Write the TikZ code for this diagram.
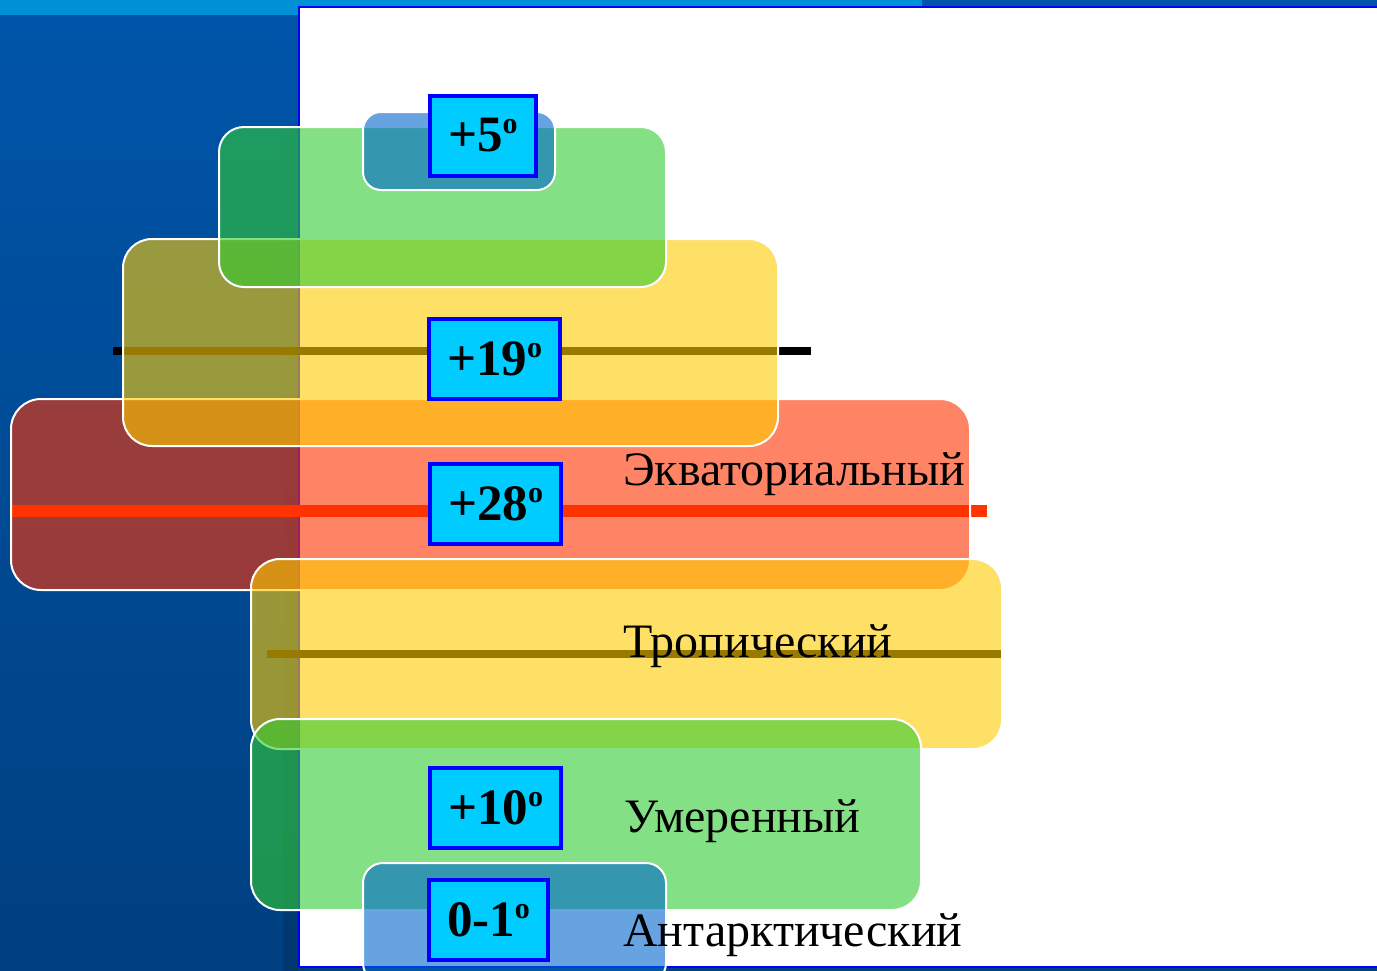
\documentclass[tikz,border=0pt]{standalone}
\usepackage{fontspec}
\setmainfont{Liberation Serif}
\usepackage{xcolor}
\definecolor{stripblue}{HTML}{0055AA}
\definecolor{stripdark}{HTML}{004080}
\definecolor{shadowblue}{HTML}{00386E}
\definecolor{bandblue}{HTML}{0090D5}
\definecolor{panelblue}{HTML}{0000FF}
\definecolor{equatorred}{HTML}{FF3300}
\definecolor{zoneyellow}{HTML}{FFCC00}
\definecolor{zonegreen}{HTML}{33CC33}
\definecolor{zoneblue}{HTML}{0066CC}
\definecolor{tempcyan}{HTML}{00CCFF}
\newcommand{\degsup}{\raisebox{18pt}{\fontsize{30}{30}\selectfont o}}
\tikzset{
    zone-box/.style = {draw=white, line width=2pt, fill=#1, fill opacity=0.6},
    belt-line/.style = {line width=8pt, draw=black},
    temp-box/.style = {draw=panelblue, fill=tempcyan, line width=4pt, rectangle, anchor=west,
        minimum height=80pt, inner xsep=18pt, font=\fontsize{51}{60}\selectfont\bfseries},
    zone-label/.style = {anchor=base west, inner sep=0pt, font=\fontsize{48}{58}\selectfont},
}
\begin{document}
\begin{tikzpicture}[x=1pt, y=-1pt]
\useasboundingbox (0,0) rectangle (1377,970);
\clip (0,0) rectangle (1377,970);
% slide background
\shade[top color=stripblue, bottom color=stripdark] (0,0) rectangle (1377,970);
\fill[bandblue] (0,0) rectangle (922,15);
\shade[top color=stripblue, bottom color=shadowblue] (283,15) rectangle (298,970);
\draw[panelblue, line width=2pt, fill=white] (299,7) rectangle (1390,967);

% belt lines (under the zones)
\draw[belt-line] (113,351) -- (811,351);
\draw[belt-line, draw=equatorred, line width=12pt] (11,511) -- (987,511);
\draw[belt-line] (267,654) -- (1002,654);

% zones
\draw[zone-box=equatorred, rounded corners=30pt] (11,399) rectangle (970,590);
\draw[zone-box=zoneyellow, rounded corners=29pt] (123,239) rectangle (778,446);
\draw[zone-box=zonegreen, rounded corners=25pt] (219,127) rectangle (666,287);
\draw[zone-box=zoneblue, rounded corners=18pt] (363,112) rectangle (555,190);
\draw[zone-box=zoneyellow, rounded corners=29pt] (251,559) rectangle (1002,749);
\draw[zone-box=zonegreen, rounded corners=29pt] (251,719) rectangle (921,910);
\draw[zone-box=zoneblue, rounded corners=20pt] (363,863) rectangle (666,983);

% temperatures
\node[temp-box] (t-polar-n) at (428,135.5) {+5\degsup};
\node[temp-box] (t-temperate-n) at (427,359) {+19\degsup};
\node[temp-box] (t-equator) at (428,503.5) {+28\degsup};
\node[temp-box] (t-temperate-s) at (428,807.5) {+10\degsup};
\node[temp-box] (t-polar-s) at (427,919.5) {0-1\degsup};

% zone names
\node[zone-label] (equatorial) at (623,485) {Экваториальный};
\node[zone-label] (tropical) at (623,657) {Тропический};
\node[zone-label] (temperate) at (624,832) {Умеренный};
\node[zone-label] (antarctic) at (623,946) {Антарктический};
\end{tikzpicture}
\end{document}
